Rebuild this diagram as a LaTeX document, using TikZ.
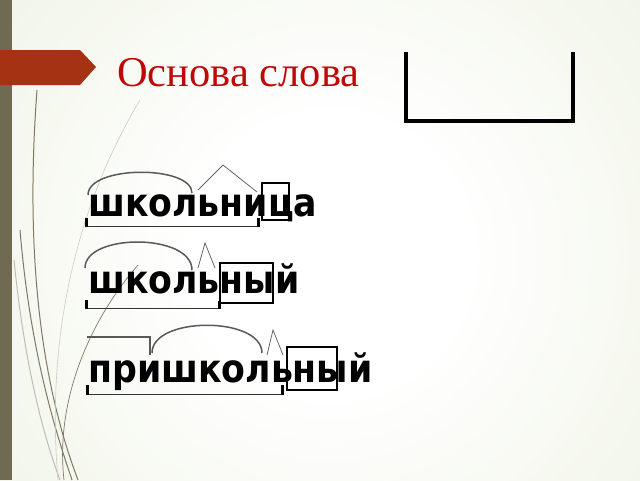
\documentclass[tikz,border=0pt]{standalone}
\usepackage{fontspec}
\setmainfont{Liberation Serif}
\newfontfamily\wordfont[FakeStretch=0.89]{DejaVu Sans}
\definecolor{bgedge}{RGB}{222,231,200}
\definecolor{barcol}{RGB}{112,106,82}
\definecolor{bannercol}{RGB}{166,50,20}
\definecolor{titlecol}{RGB}{192,8,8}
\pgfdeclareradialshading{bgshade}{\pgfpoint{0bp}{0bp}}{color(0bp)=(white); color(8bp)=(white); color(30bp)=(white!45!bgedge); color(50bp)=(bgedge)}

\begin{document}
\begin{tikzpicture}[x=1pt,y=-1pt,
  word/.style={anchor=base west,inner sep=0pt,font=\wordfont\bfseries\fontsize{39}{42}\selectfont},
  rootarc/.style={draw=black!65,line width=1.5pt},
  sufmark/.style={draw=black!60,line width=0.8pt},
  endbox/.style={draw=black,line width=1.5pt},
  baseline/.style={draw=black!80,line width=1pt},
  basetick/.style={draw=black,line width=3pt},
  stem/.style={draw=barcol!90,line width=1pt}]
  \useasboundingbox (0,0) rectangle (640,480);
  \clip (0,0) rectangle (640,480);
  \fill[bgedge] (0,0) rectangle (640,480);
  \shade[shading=bgshade] (330,255) circle (420);

  % decorative stems
  \draw[stem] (37,90) .. controls (25,250) and (40,380) .. (78,480);
  \draw[stem] (20,230) .. controls (30,350) and (55,430) .. (72,480);
  \draw[stem,draw=barcol!45] (14,260) .. controls (25,370) and (45,440) .. (60,480);
  \draw[stem,draw=barcol!35,line width=0.6pt] (140,100) .. controls (80,200) and (45,330) .. (58,480);
  \draw[stem,line width=0.7pt] (138,265) .. controls (90,320) and (55,400) .. (64,480);

  \fill[barcol] (0,0) rectangle (12,480);
  \fill[bannercol] (0,50) -- (80,50) -- (96,67) -- (80,85) -- (0,85) -- cycle;

  \node[anchor=base west,inner sep=0pt,text=titlecol,font=\fontsize{42.5}{46}\selectfont] (title) at (117,86) {Основа слова};

  % base sign
  \draw[line width=4pt] (406,52) -- (406,121) -- (573,121) -- (573,52);

  % school girl
  \node[word] (w1) at (88,216) {школьница};
  \draw[rootarc] (88,195) .. controls (88,165) and (192,165) .. (192,193);
  \draw[sufmark] (198,190) -- (223,165) -- (257,192);
  \draw[endbox] (262,183) rectangle (289,220);
  \draw[baseline] (86,226) -- (258,226);
  \draw[basetick] (86,218) -- (86,227);
  \draw[basetick] (258,218) -- (258,227);

  % school adj
  \node[word] (w2) at (88,293) {школьный};
  \draw[rootarc] (85,268) .. controls (85,233) and (192,233) .. (192,270);
  \draw[sufmark] (198,268) -- (205,243) -- (215,268);
  \draw[endbox] (220,263) rectangle (273,303);
  \draw[baseline] (86,308) -- (219,308);
  \draw[basetick] (86,300) -- (86,309);
  \draw[basetick] (219,301) -- (219,309);

  % near school
  \node[word] (w3) at (88,382) {пришкольный};
  \draw[rootarc,line width=1.2pt] (87,337) -- (150,337) -- (150,355);
  \draw[rootarc] (152,353) .. controls (152,316) and (262,316) .. (262,353);
  \draw[sufmark] (267,355) -- (273,330) -- (283,355);
  \draw[endbox] (287,347) rectangle (337,390);
  \draw[baseline] (87,394) -- (282,394);
  \draw[basetick] (87,385) -- (87,395);
  \draw[basetick] (282,385) -- (282,395);
\end{tikzpicture}
\end{document}
